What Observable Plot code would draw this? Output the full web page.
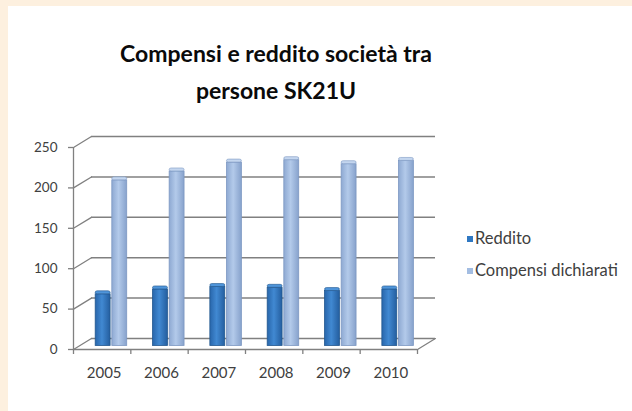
<!DOCTYPE html>
<html><head><meta charset="utf-8">
<script src="https://cdn.jsdelivr.net/npm/d3@7"></script>
<script src="https://cdn.jsdelivr.net/npm/@observablehq/plot@0.6"></script>
<style>
html,body{margin:0;padding:0;width:632px;height:411px;overflow:hidden;background:#fdf0df;}
#panel{position:absolute;left:8px;top:6px;right:0;bottom:0;background:#fff;}
#title{position:absolute;left:4px;width:544px;top:35px;text-align:center;font-family:Lato;font-weight:bold;font-size:23px;line-height:37px;color:#0a0a0a;}
#chart{position:absolute;left:0;top:120px;}
.lg{position:absolute;left:467px;font-family:Lato;font-size:16.5px;color:#404040;white-space:nowrap;line-height:18px;}
.lg span{display:inline-block;width:6px;height:6px;margin-right:2px;vertical-align:middle;position:relative;top:-1px;}
</style></head>
<body>
<div id="panel"></div>
<div id="title">Compensi e reddito società tra<br>persone SK21U</div>
<div id="chart"></div>
<div class="lg" style="top:229px"><span style="background:#2f78c2"></span>Reddito</div>
<div class="lg" style="top:261px"><span style="background:#a3bde2"></span>Compensi dichiarati</div>
<script>
const years = [2005, 2006, 2007, 2008, 2009, 2010];
const reddito = [64, 70, 73, 72, 68, 70];
const compensi = [205, 216, 227, 230, 225, 229];
const yTicks = [0, 50, 100, 150, 200, 250];
const seriesNames = ["Reddito", "Compensi dichiarati"];
const boundaries = [2004.5, 2005.5, 2006.5, 2007.5, 2008.5, 2009.5, 2010.5];

const data = years.flatMap((yr, i) => [
  {year: yr, series: seriesNames[0], value: reddito[i]},
  {year: yr, series: seriesNames[1], value: compensi[i]}
]);
const slot = {"Reddito": [-0.27, -0.01], "Compensi dichiarati": [0.02, 0.28]};
const fillOf = {"Reddito": "url(#gR)", "Compensi dichiarati": "url(#gC)"};
const strokeOf = {"Reddito": "#22588f", "Compensi dichiarati": "#7d98c2"};
const capOf = {"Reddito": "#4f95da", "Compensi dichiarati": "#c4d6ef"};
const diag = {draw(context, l) { context.moveTo(0, 0); context.lineTo(0, -l); }};
const gridColor = "#808080";
const xmin = boundaries[0], xmax = boundaries[boundaries.length - 1];

const chart = Plot.plot({
  width: 632, height: 291,
  marginTop: 27, marginBottom: 62, marginLeft: 73, marginRight: 215,
  x: {type: "linear", domain: [xmin, xmax]},
  y: {domain: [0, 250]},
  style: {fontFamily: "Lato", fontSize: "13.5px", color: "#404040", background: "transparent"},
  marks: [
    Plot.ruleY(yTicks, {x1: xmin, x2: xmax, dx: 18, dy: -11, stroke: gridColor, strokeWidth: 1.5}),
    Plot.vector(yTicks, {x: xmin, y: d => d, length: 21, rotate: 58.6, anchor: "start", shape: diag, stroke: gridColor, fill: "none", strokeWidth: 1.3}),
    Plot.vector([0], {x: xmax, y: d => d, length: 21, rotate: 58.6, anchor: "start", shape: diag, stroke: gridColor, fill: "none", strokeWidth: 1.3}),
    Plot.ruleY([0], {x1: xmin, x2: xmax, stroke: gridColor, strokeWidth: 1.3}),
    Plot.ruleX([xmin], {y1: 0, y2: 250, stroke: gridColor, strokeWidth: 1.3}),
    Plot.rect(data, {x1: d => d.year + slot[d.series][0], x2: d => d.year + slot[d.series][1], y1: 0, y2: "value",
      fill: d => fillOf[d.series], stroke: d => strokeOf[d.series], strokeWidth: 0.8, dx: 9, dy: -3.5}),
    Plot.rect(data, {x1: d => d.year + slot[d.series][0], x2: d => d.year + slot[d.series][1], y1: "value", y2: "value",
      insetTop: -3, fill: d => capOf[d.series], stroke: d => strokeOf[d.series], strokeWidth: 0.6, rx: 2, dx: 9, dy: -3.5}),
    Plot.axisY({ticks: yTicks, tickSize: 5, tickPadding: 11, stroke: gridColor, strokeWidth: 1.3, tickFormat: d => String(d), label: null}),
    Plot.axisX({ticks: boundaries, tickSize: 5, stroke: gridColor, strokeWidth: 1.3, tickFormat: () => "", label: null}),
    Plot.axisX({ticks: years, tickSize: 0, tickPadding: 18, dx: 2, fontSize: 15, tickFormat: d => String(d), label: null})
  ]
});
const ns = "http://www.w3.org/2000/svg";
const defs = document.createElementNS(ns, "defs");
defs.innerHTML = `
<linearGradient id="gR" x1="0" x2="1" y1="0" y2="0">
 <stop offset="0" stop-color="#2866ab"/><stop offset="0.45" stop-color="#4189d2"/><stop offset="1" stop-color="#245e9f"/>
</linearGradient>
<linearGradient id="gC" x1="0" x2="1" y1="0" y2="0">
 <stop offset="0" stop-color="#8ea9d2"/><stop offset="0.45" stop-color="#b3caea"/><stop offset="1" stop-color="#87a2cc"/>
</linearGradient>`;
chart.insertBefore(defs, chart.firstChild);
document.getElementById("chart").appendChild(chart);
</script>
</body></html>
